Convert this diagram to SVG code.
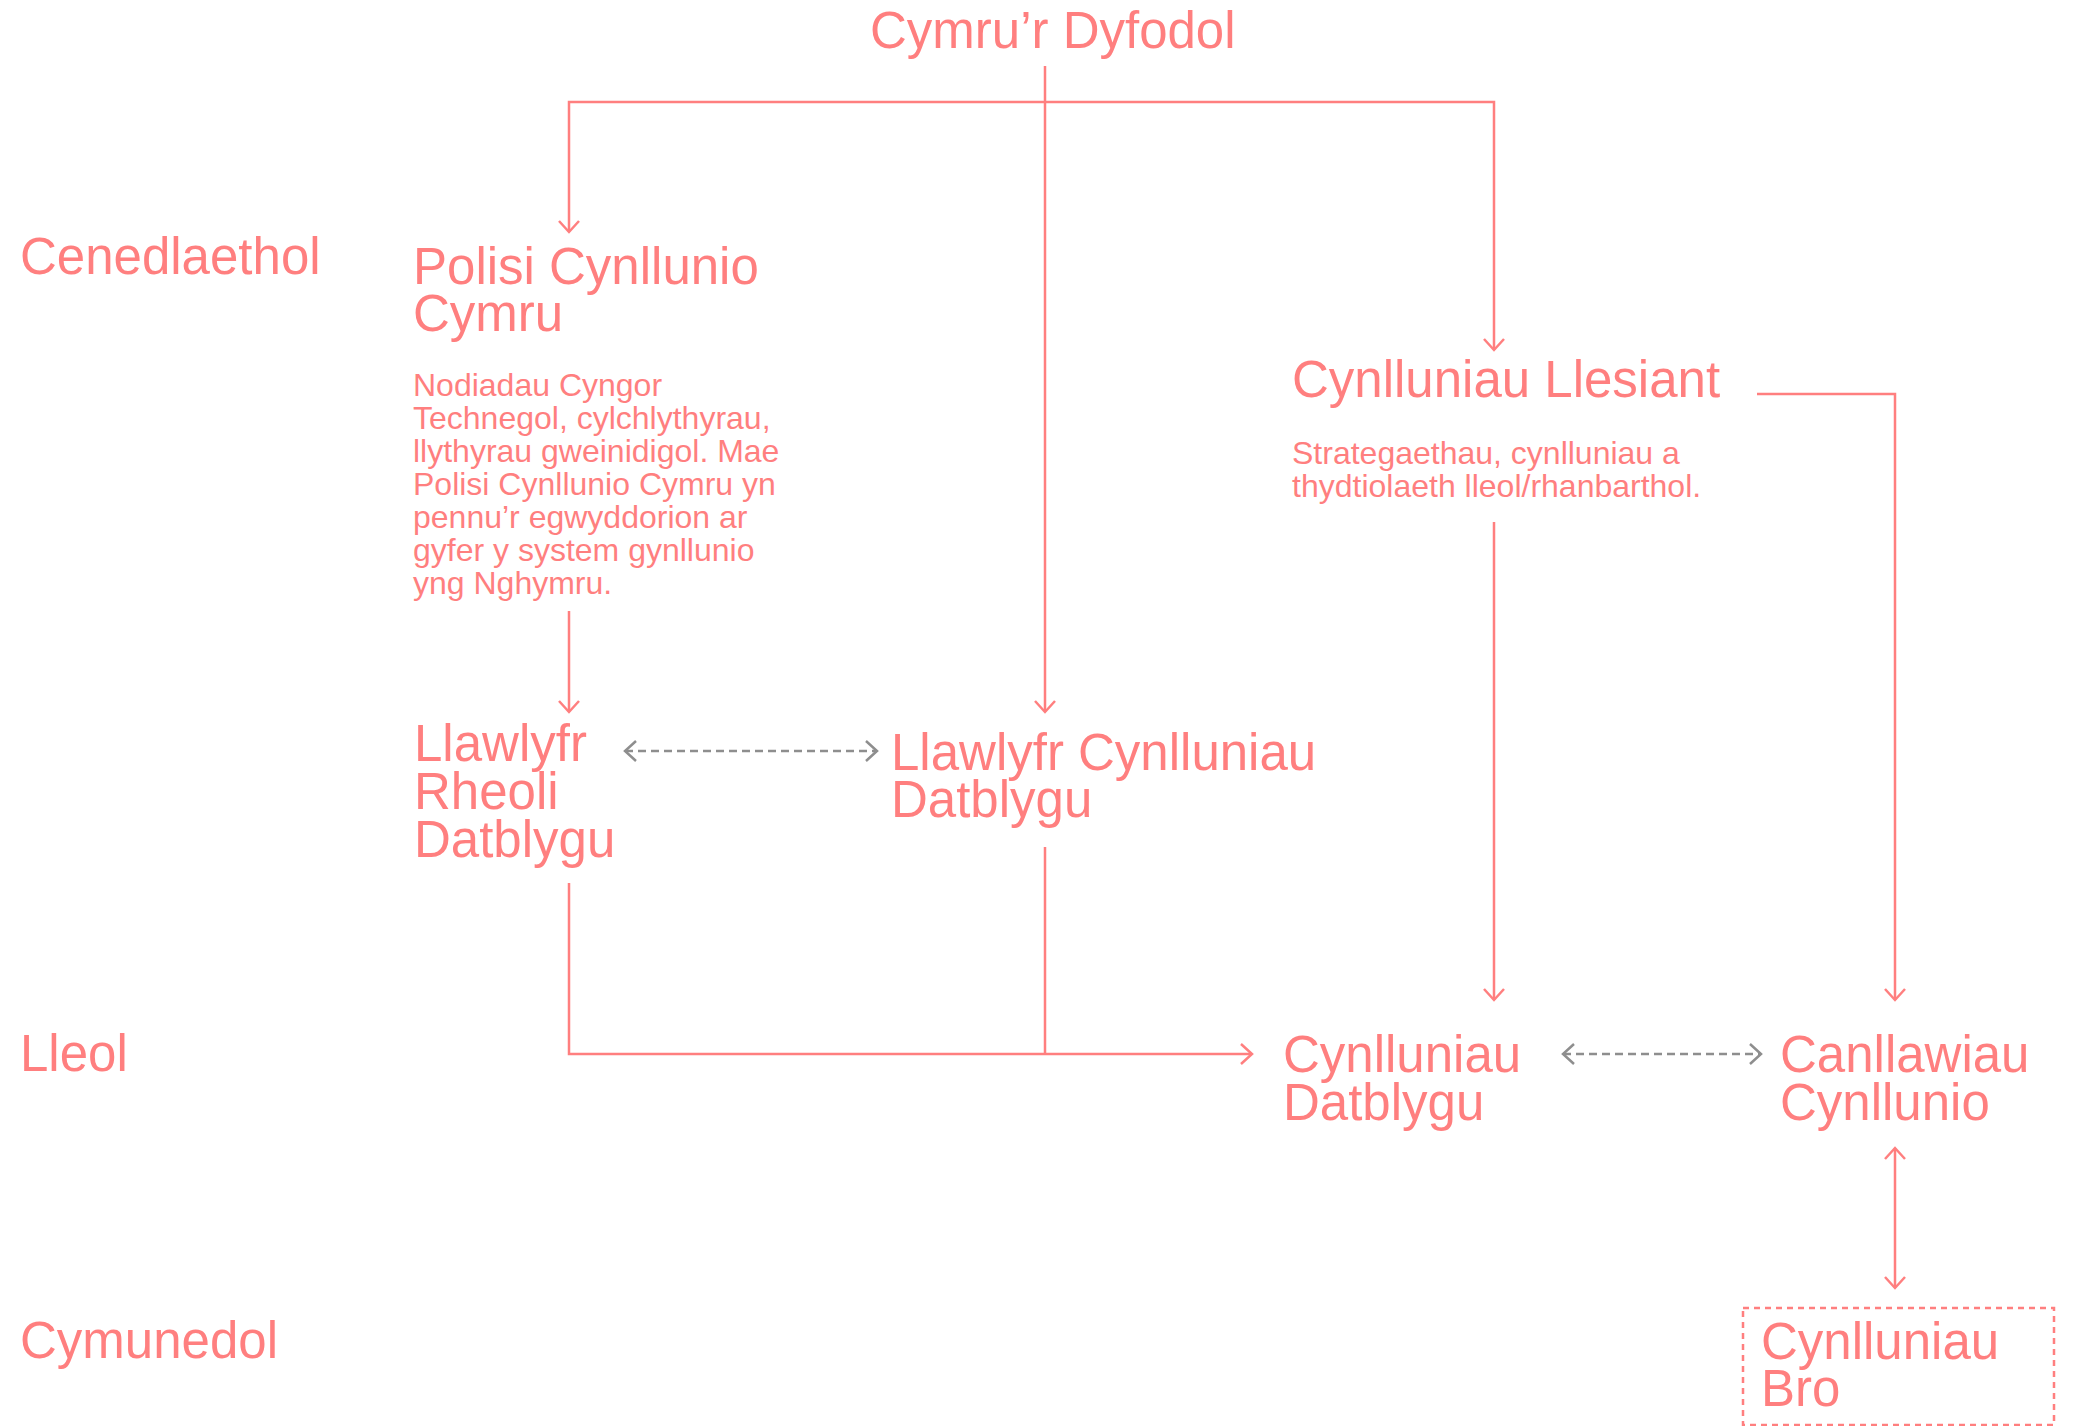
<svg xmlns="http://www.w3.org/2000/svg" width="2075" height="1426" viewBox="0 0 2075 1426">
<style>
text{font-family:"Liberation Sans",Arial,Helvetica,sans-serif;fill:#ff7f7f}
.h{font-size:51px}
.b{font-size:32px}
.ln{fill:none;stroke:#ff7f7f;stroke-width:2.5}
.gd{fill:none;stroke:#8e8e8e;stroke-width:2.5;stroke-dasharray:8 5}
</style>
<defs>
<marker id="ap" markerUnits="userSpaceOnUse" markerWidth="30" markerHeight="30" viewBox="-15 -15 30 30" refX="0" refY="0" orient="auto-start-reverse" overflow="visible">
<path d="M-11,-10 L0,0 L-11,10" fill="none" stroke="#ff7f7f" stroke-width="2.5" stroke-dasharray="none"/>
</marker>
<marker id="ag" markerUnits="userSpaceOnUse" markerWidth="30" markerHeight="30" viewBox="-15 -15 30 30" refX="0" refY="0" orient="auto-start-reverse" overflow="visible">
<path d="M-11,-10 L0,0 L-11,10" fill="none" stroke="#8e8e8e" stroke-width="2.5" stroke-dasharray="none"/>
</marker>
</defs>
<rect width="2075" height="1426" fill="#ffffff"/>
<g id="levels">
<text class="h" x="20" y="274">Cenedlaethol</text>
<text class="h" x="20" y="1071">Lleol</text>
<text class="h" x="20" y="1358">Cymunedol</text>
</g>
<g id="connectors">
<path class="ln" d="M1045,66 V712" marker-end="url(#ap)"/>
<path class="ln" d="M1045,102 H569 V232" marker-end="url(#ap)"/>
<path class="ln" d="M1045,102 H1494 V350" marker-end="url(#ap)"/>
<path class="ln" d="M569,611 V712" marker-end="url(#ap)"/>
<path class="ln" d="M1494,522 V1000" marker-end="url(#ap)"/>
<path class="ln" d="M1757,394 H1895 V1000" marker-end="url(#ap)"/>
<path class="ln" d="M569,883 V1054 H1252" marker-end="url(#ap)"/>
<path class="ln" d="M1045,847 V1054"/>
<path class="ln" d="M1895,1148 V1288" marker-start="url(#ap)" marker-end="url(#ap)"/>
<path class="gd" d="M625,751 H877" marker-start="url(#ag)" marker-end="url(#ag)"/>
<path class="gd" d="M1563,1054 H1761" marker-start="url(#ag)" marker-end="url(#ag)"/>
</g>
<g id="node-title">
<text class="h" x="870" y="48">Cymru’r Dyfodol</text>
</g>
<g id="node-polisi">
<text class="h" x="413" y="284">Polisi Cynllunio</text>
<text class="h" x="413" y="331">Cymru</text>
<text class="b" x="413" y="396">Nodiadau Cyngor</text>
<text class="b" x="413" y="429">Technegol, cylchlythyrau,</text>
<text class="b" x="413" y="462">llythyrau gweinidigol. Mae</text>
<text class="b" x="413" y="495">Polisi Cynllunio Cymru yn</text>
<text class="b" x="413" y="528">pennu’r egwyddorion ar</text>
<text class="b" x="413" y="561">gyfer y system gynllunio</text>
<text class="b" x="413" y="594">yng Nghymru.</text>
</g>
<g id="node-llesiant">
<text class="h" x="1292" y="397">Cynlluniau Llesiant</text>
<text class="b" x="1292" y="464">Strategaethau, cynlluniau a</text>
<text class="b" x="1292" y="497">thydtiolaeth lleol/rhanbarthol.</text>
</g>
<g id="node-rheoli">
<text class="h" x="414" y="761">Llawlyfr</text>
<text class="h" x="414" y="809">Rheoli</text>
<text class="h" x="414" y="857">Datblygu</text>
</g>
<g id="node-llawlyfr-cd">
<text class="h" x="891" y="770">Llawlyfr Cynlluniau</text>
<text class="h" x="891" y="817">Datblygu</text>
</g>
<g id="node-cd">
<text class="h" x="1283" y="1072">Cynlluniau</text>
<text class="h" x="1283" y="1120">Datblygu</text>
</g>
<g id="node-canllawiau">
<text class="h" x="1780" y="1072">Canllawiau</text>
<text class="h" x="1780" y="1120">Cynllunio</text>
</g>
<g id="node-bro">
<rect x="1743" y="1308" width="311" height="117" fill="none" stroke="#ff7f7f" stroke-width="2.5" stroke-dasharray="6 5"/>
<text class="h" x="1761" y="1359">Cynlluniau</text>
<text class="h" x="1761" y="1406">Bro</text>
</g>
</svg>
